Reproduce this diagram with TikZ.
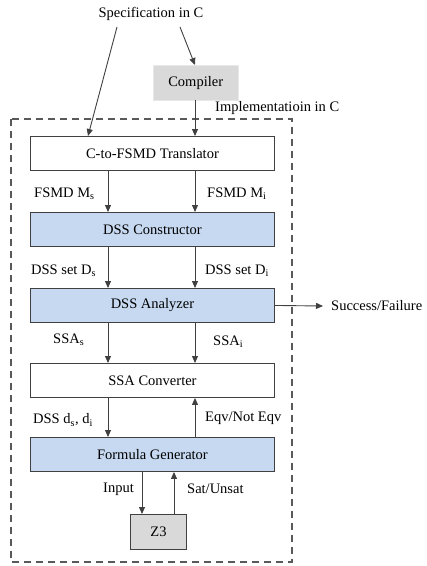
\documentclass[tikz,border=0pt]{standalone}
\usepackage{fontspec}
\setmainfont{Liberation Serif}
\usetikzlibrary{arrows.meta}
\definecolor{boxblue}{HTML}{C6D9F0}
\definecolor{boxgray}{HTML}{D9D9D9}
\definecolor{edgegray}{HTML}{404040}
\begin{document}
\begin{tikzpicture}[x=1pt,y=-1pt,
  font=\fontsize{14.5}{16}\selectfont,
  block/.style={draw=edgegray, line width=0.9pt, minimum width=244pt, minimum height=34pt, inner sep=0pt, anchor=north west},
  blueblock/.style={block, fill=boxblue},
  flow/.style={draw=edgegray, line width=0.9pt, -{Triangle[length=7pt,width=6pt]}},
  lbl/.style={inner sep=0pt}
]
\useasboundingbox (0,0) rectangle (427,566);

% enclosing tool boundary
\draw[draw=black!65, line width=1.3pt, dash pattern=on 7pt off 5pt] (11,119) rectangle (292,562);

% inputs
\node[lbl] (spec) at (151,14) {Specification in C};
\node[fill=boxgray, draw=boxgray!60, minimum width=85pt, minimum height=35pt, inner sep=0pt, anchor=north west] (comp) at (153,65) {Compiler};

% processing stages
\node[block] (trans) at (30,136) {C-to-FSMD Translator};
\node[blueblock] (cons) at (30,212) {DSS Constructor};
\node[blueblock] (anal) at (30,288) {DSS Analyzer};
\node[block] (ssa) at (30,363) {SSA Converter};
\node[blueblock] (form) at (30,437) {Formula Generator};
\node[draw=edgegray, line width=0.9pt, fill=boxgray, minimum width=56pt, minimum height=35pt, inner sep=0pt, anchor=north west] (z3) at (130,514) {Z3};

% free ends of the outer connectors
\coordinate (sL) at (117,27);
\coordinate (sR) at (180,27);
\coordinate (outR) at (323,306);

\draw[flow] (sL) -- (trans.north west -| 88,0);
\draw[flow] (sR) -- (comp.north west -| 195,0);
\draw[flow] (comp.south west -| 195,0) -- (trans.north west -| 195,0);
\node[lbl, anchor=west] at (215,108) {Implementatioin in C};

\draw[flow] (trans.south west -| 108,0) -- (cons.north west -| 108,0);
\draw[flow] (trans.south west -| 195,0) -- (cons.north west -| 195,0);
\node[lbl, anchor=west] at (34,194) {FSMD M\textsubscript{s}};
\node[lbl, anchor=west] at (207,194) {FSMD M\textsubscript{i}};

\draw[flow] (cons.south west -| 108,0) -- (anal.north west -| 108,0);
\draw[flow] (cons.south west -| 195,0) -- (anal.north west -| 195,0);
\node[lbl, anchor=west] at (31,271) {DSS set D\textsubscript{s}};
\node[lbl, anchor=west] at (205,271) {DSS set D\textsubscript{i}};

\draw[flow] (anal.east) -- (outR);
\node[lbl, anchor=west] at (331,306) {Success/Failure};

\draw[flow] (anal.south west -| 108,0) -- (ssa.north west -| 108,0);
\draw[flow] (anal.south west -| 195,0) -- (ssa.north west -| 195,0);
\node[lbl, anchor=west] at (53,340) {SSA\textsubscript{s}};
\node[lbl, anchor=west] at (213,342) {SSA\textsubscript{i}};

\draw[flow] (ssa.south west -| 108,0) -- (form.north west -| 108,0);
\draw[flow] (form.north west -| 195,0) -- (ssa.south west -| 195,0);
\node[lbl, anchor=west] at (33,420) {DSS d\textsubscript{s}, d\textsubscript{i}};
\node[lbl, anchor=west] at (205,418) {Eqv/Not Eqv};

\draw[flow] (form.south west -| 142,0) -- (z3.north west -| 142,0);
\draw[flow] (z3.north west -| 174,0) -- (form.south west -| 174,0);
\node[lbl, anchor=west] at (103,489) {Input};
\node[lbl, anchor=west] at (187,489) {Sat/Unsat};
\end{tikzpicture}
\end{document}
